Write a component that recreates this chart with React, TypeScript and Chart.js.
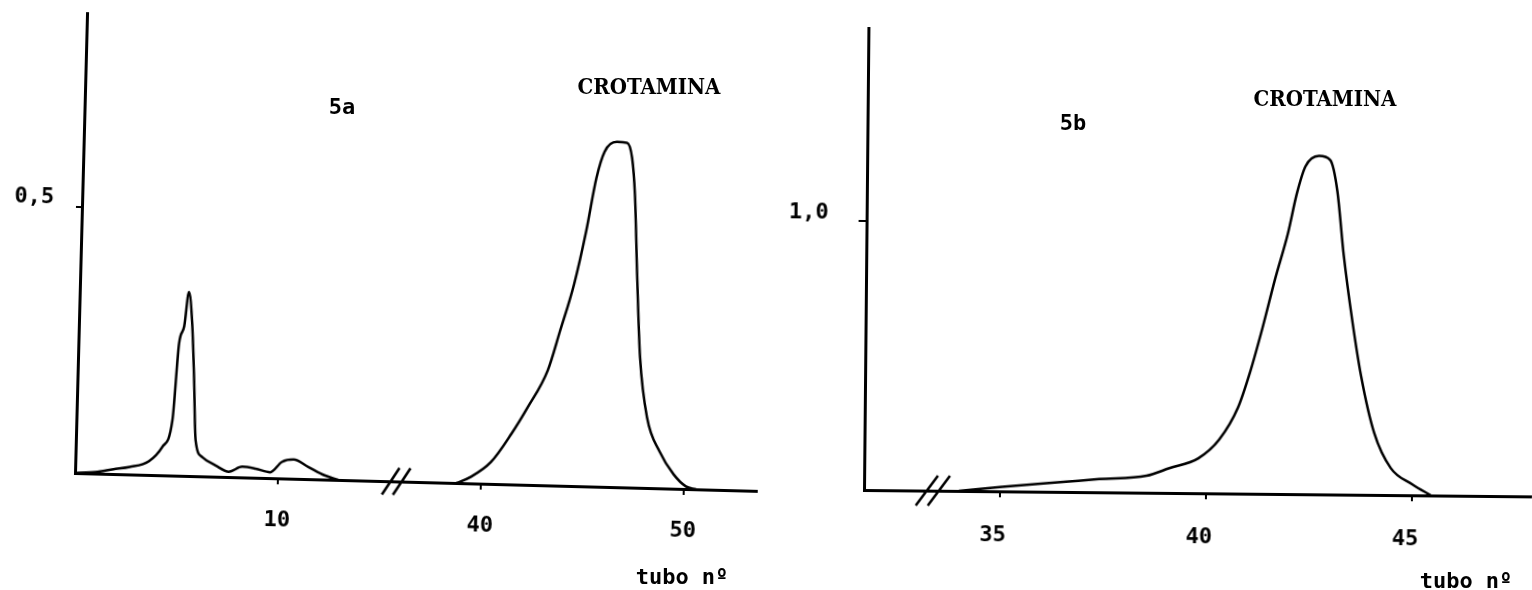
import React, { useEffect, useRef } from "react";
import { Chart, registerables } from "chart.js";

Chart.register(...registerables);

// ---- Data (tube number, absorbance) ----
// Panel 5a, first segment (before the axis break)
const leftTubesA = [0, 1.0, 1.89, 2.69, 3.63, 4.26, 4.73, 4.96, 5.19, 5.38, 5.58, 5.74, 5.9, 6.25, 6.92, 7.57, 8.23, 8.89, 9.61, 10.18, 10.75, 11.48, 12.29, 12.97];
const leftValuesA = [0, 0.003, 0.009, 0.014, 0.026, 0.053, 0.104, 0.249, 0.281, 0.346, 0.287, 0.186, 0.067, 0.036, 0.021, 0.01, 0.02, 0.017, 0.011, 0.031, 0.036, 0.023, 0.008, 0];
// Panel 5a, second segment (after the axis break) - CROTAMINA peak
const leftTubesB = [38.8, 39.49, 40.47, 41.44, 42.2, 43.15, 43.7, 44.34, 44.87, 45.3, 45.67, 46.26, 46.76, 47.03, 47.22, 47.43, 47.68, 48.11, 48.75, 49.48, 50.1, 50.6];
const leftValuesB = [0, 0.012, 0.041, 0.095, 0.145, 0.216, 0.29, 0.38, 0.481, 0.58, 0.63, 0.649, 0.648, 0.62, 0.55, 0.4, 0.245, 0.131, 0.07, 0.027, 0.005, 0];
// Panel 5b - CROTAMINA peak
const rightTubes = [34.0, 35.05, 36.6, 37.4, 38.55, 39.1, 39.8, 40.3, 40.75, 41.03, 41.33, 41.62, 41.92, 42.13, 42.33, 42.66, 42.93, 43.11, 43.28, 43.51, 43.73, 44.06, 44.47, 45.0, 45.45];
const rightValues = [0, 0.017, 0.038, 0.049, 0.063, 0.092, 0.13, 0.2, 0.32, 0.45, 0.62, 0.8, 0.97, 1.12, 1.22, 1.26, 1.245, 1.13, 0.89, 0.64, 0.44, 0.23, 0.1, 0.04, 0];

// ---- Axis ticks ----
const leftXTicks = [10, 40, 50];
const leftYTicks = [0.5];
const rightXTicks = [35, 40, 45];
const rightYTicks = [1.0];
const LEFT_GAP = 20; // tubes omitted at the "//" break of panel 5a
const LEFT_BREAK_TUBE = 15.83;
const RIGHT_BREAK_TUBE = 33.37;

const tickFont = { family: "'DejaVu Sans Mono', monospace", size: 22, weight: "bold" as const };
const fmtComma = (v: number) => v.toFixed(1).replace(".", ",");
const leftVirtual = (t: number) => (t > 30 ? t - LEFT_GAP : t);

function breakPlugin(tube: number, w: number, h: number, gap: number) {
  return {
    id: "axisBreak",
    afterDraw(chart: any) {
      const ctx = chart.ctx;
      const px = chart.scales.x.getPixelForValue(tube);
      const py = chart.scales.y.getPixelForValue(0);
      ctx.save();
      ctx.strokeStyle = "#000";
      ctx.lineWidth = 2.5;
      for (const dx of [-gap / 2, gap / 2]) {
        ctx.beginPath();
        ctx.moveTo(px + dx - w / 2, py + h / 2);
        ctx.lineTo(px + dx + w / 2, py - h / 2);
        ctx.stroke();
      }
      ctx.restore();
    },
  };
}

function axisCommon(tickLen: number) {
  return {
    border: { display: true, color: "#000", width: 3 },
    grid: { drawOnChartArea: false, drawTicks: true, tickLength: tickLen, color: "#000", lineWidth: 2 },
  };
}

function fixX(height: number) {
  return (s: any) => {
    s.height = height;
    s.paddingLeft = 0;
    s.paddingRight = 0;
  };
}
function fixY(width: number) {
  return (s: any) => {
    s.width = width;
    s.paddingTop = 0;
    s.paddingBottom = 0;
  };
}

function useChart(ref: React.RefObject<HTMLCanvasElement>, build: () => any) {
  useEffect(() => {
    if (!ref.current) return;
    const chart = new Chart(ref.current, build());
    return () => chart.destroy();
  }, []);
}

const lineStyle = {
  borderColor: "#000",
  borderWidth: 2.5,
  pointRadius: 0,
  cubicInterpolationMode: "monotone" as const,
  fill: false,
};

function LeftPanel() {
  const ref = useRef<HTMLCanvasElement>(null);
  useChart(ref, () => ({
    type: "line",
    data: {
      datasets: [
        { ...lineStyle, data: leftTubesA.map((t, i) => ({ x: leftVirtual(t), y: leftValuesA[i] })) },
        { ...lineStyle, data: leftTubesB.map((t, i) => ({ x: leftVirtual(t), y: leftValuesB[i] })) },
      ],
    },
    options: {
      animation: false,
      responsive: false,
      layout: { padding: { top: 13, right: 13, left: 0, bottom: 0 } },
      plugins: { legend: { display: false }, tooltip: { enabled: false } },
      scales: {
        x: {
          type: "linear",
          min: 0,
          max: 33.6,
          ...axisCommon(6),
          afterBuildTicks: (s: any) => {
            s.ticks = leftXTicks.map((t) => ({ value: leftVirtual(t) }));
          },
          afterFit: fixX(117),
          ticks: {
            color: "#000",
            font: tickFont,
            padding: 23,
            maxRotation: 0,
            autoSkip: false,
            callback: (v: number) => String(v > 16 ? v + LEFT_GAP : v),
          },
        },
        y: {
          type: "linear",
          min: 0,
          max: 0.865,
          ...axisCommon(6),
          afterBuildTicks: (s: any) => {
            s.ticks = leftYTicks.map((v) => ({ value: v }));
          },
          afterFit: fixY(75),
          ticks: {
            color: "#000",
            font: tickFont,
            padding: 22,
            labelOffset: -9,
            autoSkip: false,
            callback: (v: number) => fmtComma(v),
          },
        },
      },
    },
    plugins: [breakPlugin(LEFT_BREAK_TUBE, 17, 27, 11)],
  }));
  return (
    <canvas
      ref={ref}
      width={770}
      height={590}
      style={{
        position: "absolute",
        left: 0,
        top: 0,
        width: 770,
        height: 590,
        transform: "rotate(1.5deg)",
        transformOrigin: "75px 473px",
      }}
    />
  );
}

function RightPanel() {
  const ref = useRef<HTMLCanvasElement>(null);
  useChart(ref, () => ({
    type: "line",
    data: {
      datasets: [{ ...lineStyle, data: rightTubes.map((t, i) => ({ x: t, y: rightValues[i] })) }],
    },
    options: {
      animation: false,
      responsive: false,
      layout: { padding: { top: 28, right: 0, left: 0, bottom: 0 } },
      plugins: { legend: { display: false }, tooltip: { enabled: false } },
      scales: {
        x: {
          type: "linear",
          min: 31.7,
          max: 47.9,
          ...axisCommon(6),
          afterBuildTicks: (s: any) => {
            s.ticks = rightXTicks.map((t) => ({ value: t }));
          },
          afterFit: fixX(100),
          ticks: {
            color: "#000",
            font: tickFont,
            padding: 25,
            labelOffset: -7,
            maxRotation: 0,
            autoSkip: false,
            callback: (v: number) => String(v),
          },
        },
        y: {
          type: "linear",
          min: 0,
          max: 1.72,
          ...axisCommon(8),
          afterBuildTicks: (s: any) => {
            s.ticks = rightYTicks.map((v) => ({ value: v }));
          },
          afterFit: fixY(84),
          ticks: {
            color: "#000",
            font: tickFont,
            padding: 30,
            labelOffset: -8,
            autoSkip: false,
            callback: (v: number) => fmtComma(v),
          },
        },
      },
    },
    plugins: [breakPlugin(RIGHT_BREAK_TUBE, 22, 30, 12)],
  }));
  return (
    <canvas
      ref={ref}
      width={752}
      height={590}
      style={{
        position: "absolute",
        left: 780,
        top: 0,
        width: 752,
        height: 590,
        transform: "rotate(0.55deg)",
        transformOrigin: "84px 490px",
      }}
    />
  );
}

function Label({ x, y, text, serif }: { x: number; y: number; text: string; serif?: boolean }) {
  return (
    <div
      style={{
        position: "absolute",
        left: x,
        top: y,
        transform: "translate(-50%, -50%)",
        whiteSpace: "nowrap",
        lineHeight: 1,
        fontFamily: serif ? "'DejaVu Serif Condensed', 'DejaVu Serif', serif" : "'DejaVu Sans Mono', monospace",
        fontStretch: serif ? "condensed" : "normal",
        fontWeight: "bold",
        fontSize: 22,
        color: "#000",
      }}
    >
      {text}
    </div>
  );
}

export default function App() {
  return (
    <div
      style={{
        position: "fixed",
        left: 0,
        top: 0,
        width: 1532,
        height: 590,
        background: "#fff",
        overflow: "hidden",
      }}
    >
      <LeftPanel />
      <RightPanel />
      <Label x={342} y={107} text="5a" />
      <Label x={649} y={86} text="CROTAMINA" serif />
      <Label x={682} y={577} text="tubo nº" />
      <Label x={1073} y={123} text="5b" />
      <Label x={1325} y={98} text="CROTAMINA" serif />
      <Label x={1466} y={581} text="tubo nº" />
    </div>
  );
}
